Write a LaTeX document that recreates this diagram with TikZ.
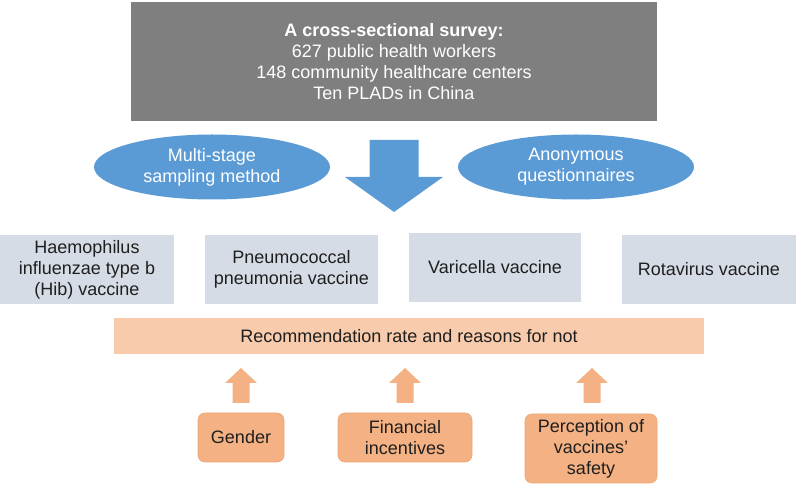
\documentclass[tikz,border=0pt]{standalone}
\usepackage{fontspec}
\setmainfont{Liberation Sans}
\usetikzlibrary{shapes.geometric}
\definecolor{survgray}{HTML}{7F7F7F}
\definecolor{ellblue}{HTML}{5B9BD5}
\definecolor{vacbox}{HTML}{D6DCE5}
\definecolor{barorange}{HTML}{F8CBAD}
\definecolor{boxorange}{HTML}{F4B183}
\definecolor{boxedge}{HTML}{EDA574}
\definecolor{txtdark}{HTML}{1F1F1F}
\begin{document}
\begin{tikzpicture}[x=1pt,y=-1pt,
  every node/.style={font=\fontsize{18}{21}\selectfont, align=center, inner sep=0pt},
  survey/.style={fill=survgray, text=white, minimum width=526pt, minimum height=119pt},
  method/.style={ellipse, fill=ellblue, text=white, minimum width=236pt, minimum height=65pt},
  vaccine/.style={fill=vacbox, text=txtdark, minimum width=173pt, minimum height=69pt},
  resultbar/.style={fill=barorange, text=txtdark, minimum width=590pt, minimum height=36pt},
  factor/.style={fill=boxorange, draw=boxedge, line width=0.6pt, rounded corners=7pt, text=txtdark, minimum height=49pt},
  blockup/.style={fill=boxorange},
  blockdown/.style={fill=ellblue}
]
\useasboundingbox (0,0) rectangle (796,486);

\node[survey] (survey) at (394,61.5) {\textbf{A cross-sectional survey:}\\627 public health workers\\148 community healthcare centers\\Ten PLADs in China};

\node[method] (multi) at (212,167) {Multi-stage\\sampling method};
\node[method] (anon) at (576,167) {Anonymous\\questionnaires};

% big down arrow
\coordinate (dtop) at (394,140);
\coordinate (dtip) at (394,212);
\fill[blockdown] ([xshift=-24.5pt]dtop) -- ([xshift=24.5pt]dtop) -- ([xshift=24.5pt]394,177) -- ([xshift=49pt]394,177) -- (dtip) -- ([xshift=-49pt]394,177) -- ([xshift=-24.5pt]394,177) -- cycle;

\node[vaccine, minimum width=174pt] (hib) at (87,269.5) {Haemophilus\\influenzae type b\\(Hib) vaccine};
\node[vaccine] (pneu) at (291.5,269.5) {Pneumococcal\\pneumonia vaccine};
\node[vaccine, minimum width=172pt] (vari) at (495,267.5) {Varicella vaccine};
\node[vaccine, minimum width=174pt] (rota) at (709,269.5) {Rotavirus vaccine};

\node[resultbar] (rec) at (409,336) {Recommendation rate and reasons for not};

\node[factor, minimum width=86pt] (gender) at (241,437.5) {Gender};
\node[factor, minimum width=134pt] (fin) at (405,437.5) {Financial\\incentives};
\node[factor, minimum width=132pt, minimum height=69pt] (perc) at (591,448.5) {Perception of\\vaccines'\\safety};

% up arrows
\foreach \n/\cx in {ua/241, ub/405, uc/592}{
  \coordinate (\n) at (\cx,368);
  \fill[blockup] (\cx-8.5,403) -- (\cx-8.5,383) -- (\cx-16,383) -- (\n) -- (\cx+16,383) -- (\cx+8.5,383) -- (\cx+8.5,403) -- cycle;
}
\end{tikzpicture}
\end{document}
